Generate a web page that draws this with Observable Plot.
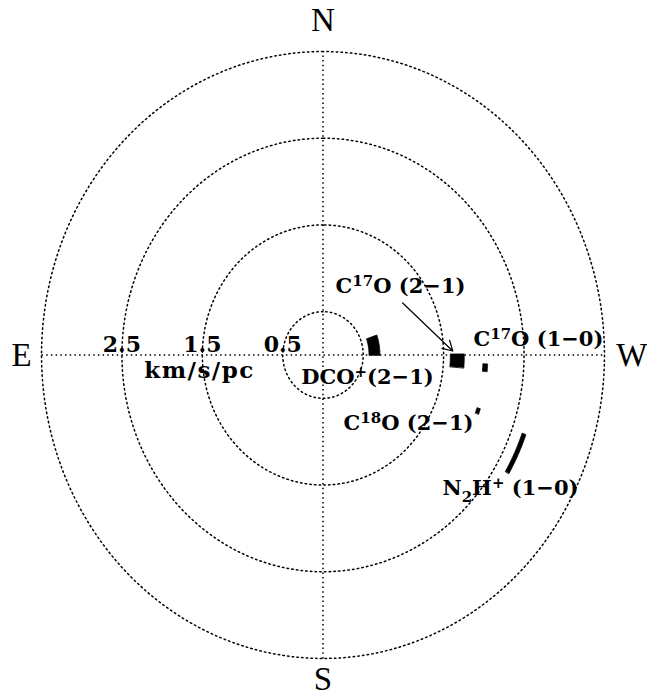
<!DOCTYPE html>
<html>
<head>
<meta charset="utf-8">
<script src="https://cdn.jsdelivr.net/npm/d3@7"></script>
<script src="https://cdn.jsdelivr.net/npm/@observablehq/plot@0.6"></script>
<style>
  html, body { margin: 0; padding: 0; background: #fff; }
  #chart svg { display: block; }
</style>
</head>
<body>
<div id="chart"></div>
<script>
// ---- data ----
const rings = [0.5, 1.5, 2.5, 3.5];               // km/s/pc
const ringLabels = ["0.5", "1.5", "2.5"];
const ringLabelValues = [0.5, 1.5, 2.5];
const directions = ["N", "E", "S", "W"];
const directionPA = [0, 90, 180, 270];
const species = ["DCO⁺(2−1)", "C¹⁷O (2−1)", "C¹⁷O (1−0)", "C¹⁸O (2−1)", "N₂H⁺ (1−0)"];
const gradient = [0.64, 1.67, 2.02, 2.03, 2.66];      // km/s/pc
const gradientErr = [0.068, 0.087, 0.03, 0.022, 0.025];
const posAngle = [279.5, 267.8, 265.9, 251.5, 244.7]; // deg, E of N
const posAngleErr = [9.5, 2.6, 1.2, 0.9, 5.3];

// ---- layout (label anchors in km/s/pc, not data) ----
const labelX = [0.553, 0.964, 2.679, 1.063, 2.331];
const labelY = [-0.254, 0.796, 0.185, -0.784, -1.534];
const dirR = [3.86, 3.749, 3.74, 3.84];

const rad = d => d * Math.PI / 180;
const toX = (r, pa) => -r * Math.sin(rad(pa));
const toY = (r, pa) => r * Math.cos(rad(pa));

// ring outlines
const ringPts = [];
for (const r of rings) {
  for (let a = 0; a <= 360; a += 2) ringPts.push({r, x: toX(r, a), y: toY(r, a)});
}
// cross lines
const R = rings[rings.length - 1];
const cross = [
  {id: "h", x1: -R, y1: 0, x2: R, y2: 0},
  {id: "v", x1: 0, y1: -R, x2: 0, y2: R}
];
// error sectors
const sectors = [];
species.forEach((s, i) => {
  const r0 = gradient[i] - gradientErr[i], r1 = gradient[i] + gradientErr[i];
  const a0 = posAngle[i] - posAngleErr[i], a1 = posAngle[i] + posAngleErr[i];
  const n = 16;
  for (let k = 0; k <= n; k++) { const a = a0 + (a1 - a0) * k / n; sectors.push({s, x: toX(r1, a), y: toY(r1, a)}); }
  for (let k = n; k >= 0; k--) { const a = a0 + (a1 - a0) * k / n; sectors.push({s, x: toX(r0, a), y: toY(r0, a)}); }
});
const labels = species.map((s, i) => ({s, x: labelX[i], y: labelY[i]}));
const dirs = directions.map((d, i) => ({d, x: toX(dirR[i], directionPA[i]), y: toY(dirR[i], directionPA[i])}));
const ringLab = ringLabels.map((t, i) => ({t, x: -ringLabelValues[i], y: 0}));

const labelFont = "DejaVu Serif";
const W = 647, H = 698;
const chart = Plot.plot({
  width: W,
  height: H,
  marginLeft: 41,
  marginRight: 43,
  marginTop: 51,
  marginBottom: 40,
  x: {domain: [-R, R], axis: null},
  y: {domain: [-R, R], axis: null},
  marks: [
    Plot.line(ringPts, {x: "x", y: "y", z: "r", stroke: "black", strokeWidth: 1.5, strokeDasharray: "1.5,3.2"}),
    Plot.link(cross, {x1: "x1", y1: "y1", x2: "x2", y2: "y2", stroke: "black", strokeWidth: 1.5, strokeDasharray: "1.5,3.2"}),
    Plot.line(sectors, {x: "x", y: "y", z: "s", fill: "black", stroke: "black", strokeWidth: 0.8, curve: "linear-closed"}),
    Plot.arrow([{x1: 0.991, y1: 0.600, x2: 1.613, y2: 0.046}], {x1: "x1", y1: "y1", x2: "x2", y2: "y2", stroke: "black", strokeWidth: 1.2, headLength: 14, bend: 0}),
    Plot.text(ringLab, {x: "x", y: "y", text: "t", dy: -10, fontSize: 22, fontFamily: labelFont, fontWeight: "bold", fill: "black"}),
    Plot.text(["km/s/pc"], {x: () => -1.535, y: () => -0.185, text: d => d, fontSize: 23, fontFamily: labelFont, fontWeight: "bold", fill: "black", className: "unit"}),
    Plot.text(labels, {x: "x", y: "y", text: "s", fontSize: 21, fontFamily: labelFont, fontWeight: "bold", fill: "black", className: "species"}),
    Plot.text(dirs, {x: "x", y: "y", text: "d", fontSize: 33, fontFamily: "Liberation Serif", fill: "black"})
  ]
});
// wider tracking for the unit label
chart.querySelectorAll("g.unit text").forEach(t => t.setAttribute("letter-spacing", "1.5"));
// render super/subscripts with tspans
const supMap = {"⁰":"0","¹":"1","²":"2","³":"3","⁴":"4","⁵":"5","⁶":"6","⁷":"7","⁸":"8","⁹":"9","⁺":"+"};
const subMap = {"₀":"0","₁":"1","₂":"2","₃":"3"};
chart.querySelectorAll("g.species text").forEach(t => {
  const str = t.textContent;
  const segs = [];
  for (const ch of str) {
    const kind = supMap[ch] ? "sup" : subMap[ch] ? "sub" : "n";
    const c = supMap[ch] || subMap[ch] || ch;
    if (segs.length && segs[segs.length - 1].kind === kind) segs[segs.length - 1].text += c;
    else segs.push({kind, text: c});
  }
  while (t.firstChild) t.removeChild(t.firstChild);
  const ns = "http://www.w3.org/2000/svg";
  for (const s of segs) {
    const sp = document.createElementNS(ns, "tspan");
    sp.textContent = s.text;
    if (s.kind === "sup") { sp.setAttribute("font-size", "15"); sp.setAttribute("dy", "-7"); }
    if (s.kind === "sub") { sp.setAttribute("font-size", "15"); sp.setAttribute("dy", "7"); }
    t.appendChild(sp);
    if (s.kind !== "n") {
      // restore baseline on next segment
      s.reset = s.kind === "sup" ? 7 : -7;
    }
  }
  // fix baselines: apply reset dy on following tspans
  const spans = t.querySelectorAll("tspan");
  segs.forEach((s, i) => { if (s.reset && spans[i + 1]) spans[i + 1].setAttribute("dy", String(s.reset)); });
});
document.getElementById("chart").appendChild(chart);
</script>
</body>
</html>
